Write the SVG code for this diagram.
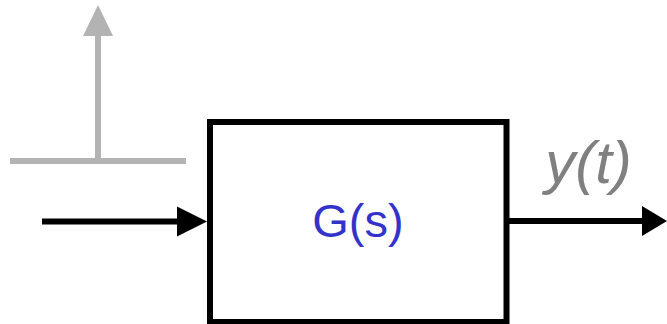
<svg xmlns="http://www.w3.org/2000/svg" width="667" height="324" viewBox="0 0 667 324">
  <style>
    .sig { stroke: #000; stroke-width: 6; fill: none; }
    .ref { stroke: #b3b3b3; stroke-width: 6; fill: none; }
    .lbl { font-family: "Liberation Sans", Arial, sans-serif; }
  </style>
  <rect width="667" height="324" fill="#fff"/>

  <!-- impulse symbol -->
  <g id="impulse">
    <line class="ref" x1="10" y1="161" x2="186" y2="161"/>
    <line class="ref" x1="98" y1="161" x2="98" y2="33"/>
    <polygon points="98,5 113,36 83,36" fill="#b3b3b3"/>
  </g>

  <!-- transfer function block -->
  <g id="block">
    <rect x="210" y="122" width="296.5" height="200" fill="#fff" stroke="#000" stroke-width="6"/>
    <text class="lbl" x="358" y="237" text-anchor="middle" font-size="47" fill="#3333cc">G(s)</text>
  </g>

  <g id="output-label">
    <text class="lbl" x="588.5" y="183" text-anchor="middle" font-size="60" fill="#808080" font-style="italic">y(t)</text>
  </g>

  <!-- connectors -->
  <g id="connectors">
    <line class="sig" x1="42" y1="221.5" x2="180" y2="221.5"/>
    <polygon points="207,221.5 177,206.5 177,236.5" fill="#000"/>
    <line class="sig" x1="509" y1="221" x2="645" y2="221"/>
    <polygon points="667,221 642,206 642,236" fill="#000"/>
  </g>
</svg>
